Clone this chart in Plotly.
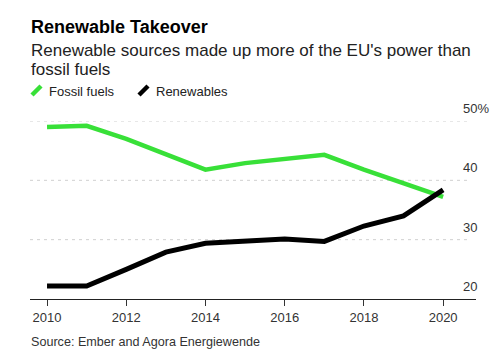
import plotly.graph_objects as go

years = [2010, 2011, 2012, 2013, 2014, 2015, 2016, 2017, 2018, 2019, 2020]
fossil = [49.0, 49.2, 47.0, 44.3, 41.8, 42.9, 43.6, 44.3, 41.8, 39.6, 37.2]
renewables = [22.2, 22.2, 25.0, 27.9, 29.4, 29.7, 30.1, 29.7, 32.3, 34.0, 38.4]
y_ticks = [20, 30, 40, 50]
y_tick_labels = ["20", "30", "40", "50%"]
x_ticks = [2010, 2012, 2014, 2016, 2018, 2020]

GREEN = "#38e038"
FONT = "Liberation Sans, Arial, sans-serif"

W, H = 500, 364
L, R, T, B = 30, 24, 121, 65
pw, ph = W - L - R, H - T - B

def px(x):
    return (x - L) / pw

def py(y):
    return (H - B - y) / ph

fig = go.Figure()
fig.add_trace(go.Scatter(x=years, y=fossil, mode="lines", name="Fossil fuels",
                         line=dict(color=GREEN, width=4.5), showlegend=False))
fig.add_trace(go.Scatter(x=years, y=renewables, mode="lines", name="Renewables",
                         line=dict(color="#000000", width=5), showlegend=False))

shapes = []
for v in y_ticks[1:]:
    shapes.append(dict(type="line", xref="paper", yref="y", x0=0, x1=px(471), y0=v, y1=v,
                       line=dict(color="#d0d0d0", width=1, dash="3px,4px"), layer="below"))
# legend swatches
shapes.append(dict(type="line", xref="paper", yref="paper", x0=px(32), x1=px(41), y0=py(95), y1=py(86),
                   line=dict(color=GREEN, width=4.5)))
shapes.append(dict(type="line", xref="paper", yref="paper", x0=px(139), x1=px(148), y0=py(95), y1=py(86),
                   line=dict(color="#000000", width=4.5)))

annotations = []
for v, t in zip(y_ticks, y_tick_labels):
    annotations.append(dict(xref="paper", yref="y", x=px(461), y=v, text=t, showarrow=False,
                            xanchor="left", yanchor="bottom", yshift=3,
                            font=dict(family=FONT, size=13, color="#333333")))
annotations += [
    dict(xref="paper", yref="paper", x=px(29), y=py(27), text="<b>Renewable Takeover</b>",
         showarrow=False, xanchor="left", yanchor="middle",
         font=dict(family=FONT, size=18, color="#000000")),
    dict(xref="paper", yref="paper", x=px(29), y=py(51), text="Renewable sources made up more of the EU's power than",
         showarrow=False, xanchor="left", yanchor="middle",
         font=dict(family=FONT, size=17, color="#222222")),
    dict(xref="paper", yref="paper", x=px(29), y=py(69), text="fossil fuels",
         showarrow=False, xanchor="left", yanchor="middle",
         font=dict(family=FONT, size=17, color="#222222")),
    dict(xref="paper", yref="paper", x=px(47), y=py(91), text="Fossil fuels",
         showarrow=False, xanchor="left", yanchor="middle",
         font=dict(family=FONT, size=13, color="#222222")),
    dict(xref="paper", yref="paper", x=px(154), y=py(91), text="Renewables",
         showarrow=False, xanchor="left", yanchor="middle",
         font=dict(family=FONT, size=13, color="#222222")),
    dict(xref="paper", yref="paper", x=px(29), y=py(342), text="Source: Ember and Agora Energiewende",
         showarrow=False, xanchor="left", yanchor="middle",
         font=dict(family=FONT, size=12.6, color="#333333")),
]

fig.update_layout(
    width=W, height=H,
    margin=dict(l=L, r=R, t=T, b=B),
    paper_bgcolor="white", plot_bgcolor="white",
    shapes=shapes, annotations=annotations,
    showlegend=False,
    xaxis=dict(range=[2009.57, 2020.83], tickvals=x_ticks, ticks="outside", ticklen=6,
               tickcolor="#333333", showgrid=False, zeroline=False, showline=True,
               linecolor="#222222", linewidth=1, fixedrange=True,
               tickfont=dict(family=FONT, size=13, color="#333333")),
    yaxis=dict(range=[20, 50], showticklabels=False, showgrid=False, zeroline=False,
               showline=False, fixedrange=True),
)

fig.write_html("out.html", config={"displayModeBar": False},
               post_script="document.body.style.margin='0';document.body.style.overflow='hidden';")
